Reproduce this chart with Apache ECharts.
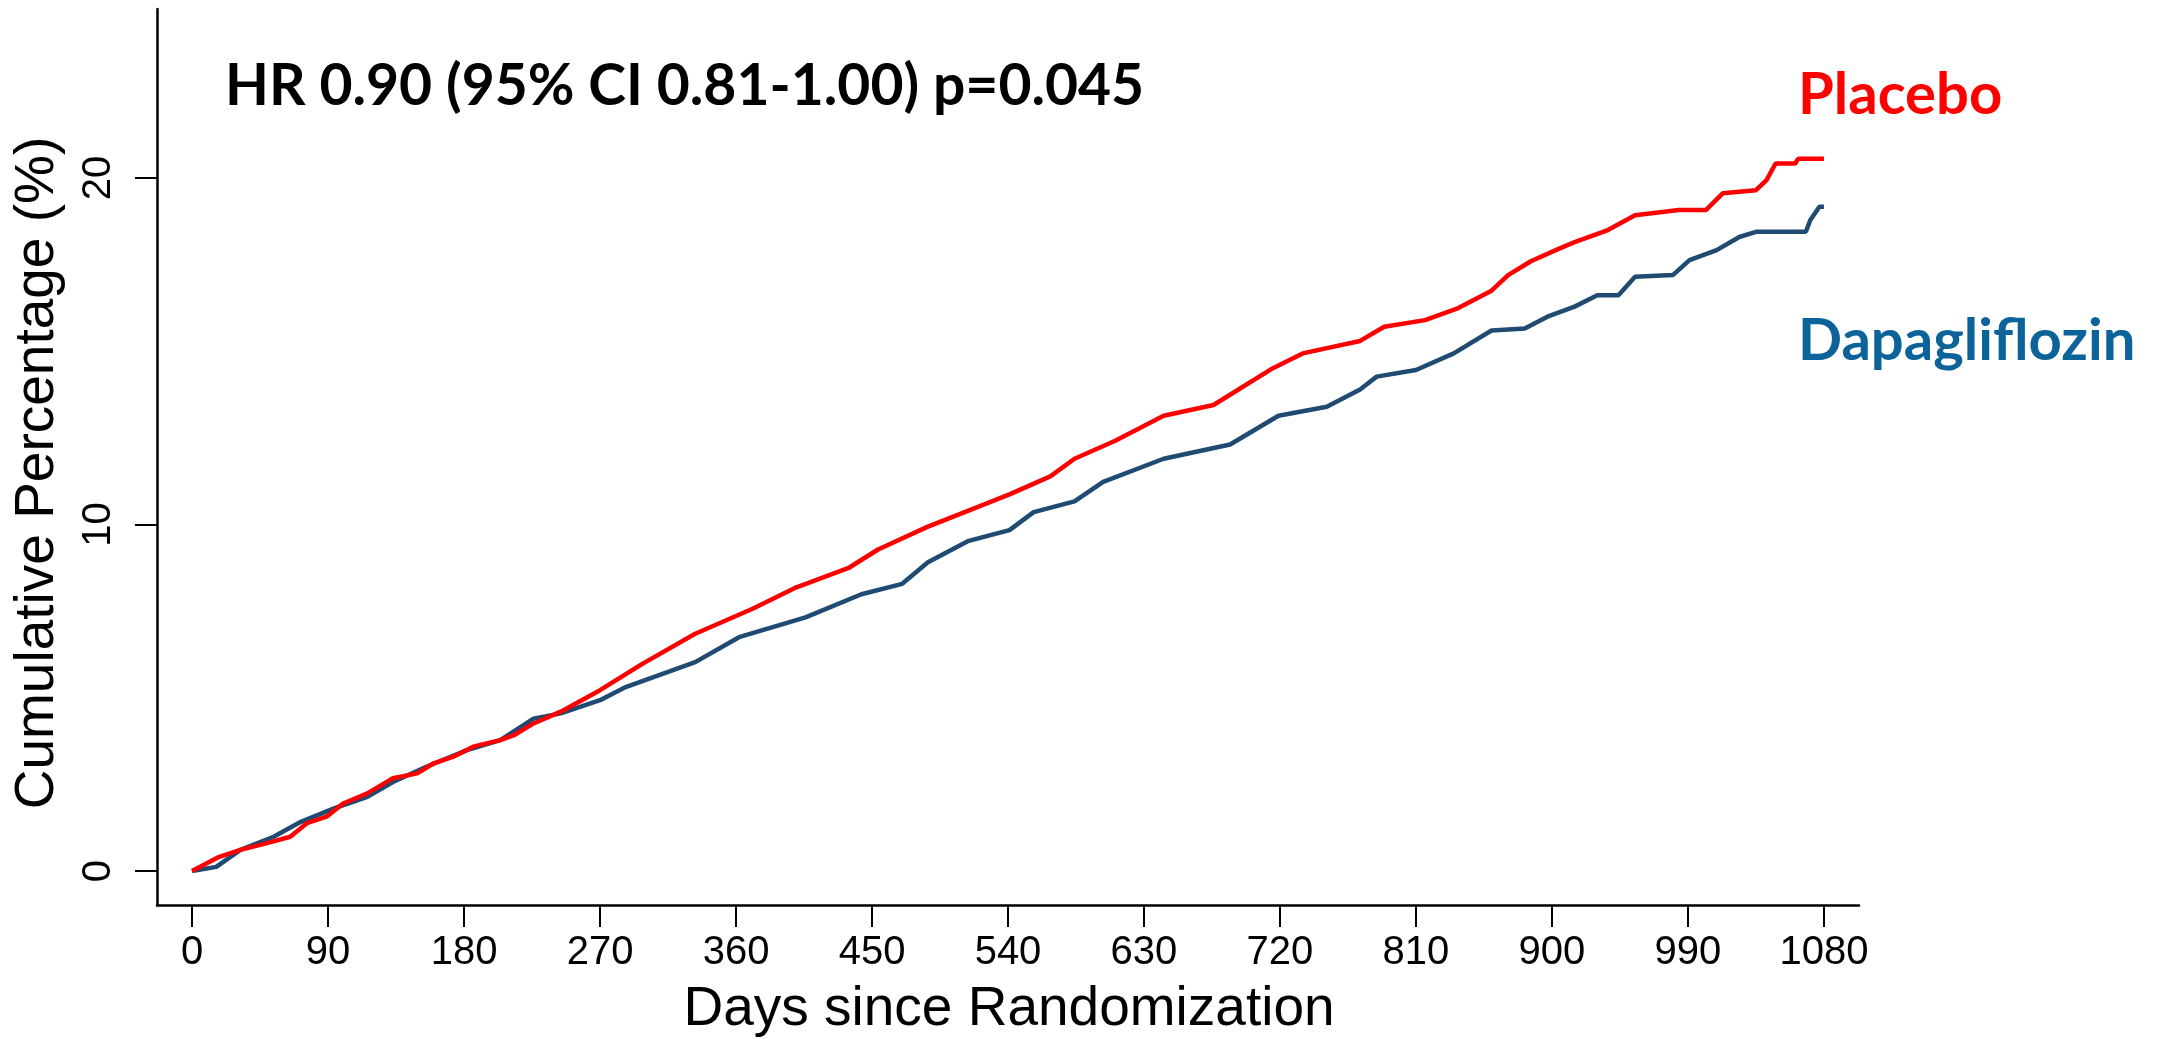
<!DOCTYPE html>
<html>
<head>
<meta charset="utf-8">
<title>Cumulative Percentage</title>
<script src="https://cdn.jsdelivr.net/npm/echarts@6/dist/echarts.min.js"></script>
<style>
  html, body { margin: 0; padding: 0; background: #fff; }
  #chart { width: 2161px; height: 1039px; }
</style>
</head>
<body>
<div id="chart"></div>
<script>
// values (days, cumulative %)
var placeboDays = [0, 18, 32, 49, 65, 76, 89, 100, 116, 133, 149, 160, 173, 186, 204, 213, 226, 244, 270, 298,
  333, 371, 400, 435, 454, 487, 508, 541, 568, 584, 611, 643, 676, 714, 735, 773, 789, 816, 838, 860,
  871, 886, 904, 915, 937, 955, 984, 1002, 1013, 1035, 1042, 1048, 1061, 1063, 1080];
var placeboPct = [0, 0.41, 0.61, 0.8, 0.99, 1.38, 1.57, 1.95, 2.24, 2.68, 2.82, 3.11, 3.3, 3.59, 3.78, 3.92, 4.26, 4.6, 5.22, 5.98,
  6.85, 7.57, 8.19, 8.76, 9.28, 9.94, 10.3, 10.87, 11.39, 11.9, 12.42, 13.14, 13.45, 14.48, 14.94, 15.3, 15.71, 15.9, 16.25, 16.75,
  17.2, 17.6, 17.95, 18.15, 18.5, 18.93, 19.08, 19.08, 19.56, 19.65, 19.94, 20.42, 20.42, 20.56, 20.56];

var dapaDays = [0, 16, 32, 54, 72, 94, 116, 133, 155, 182, 204, 226, 244, 270, 287, 333, 362, 406, 443, 470,
  487, 514, 541, 557, 584, 603, 643, 687, 719, 751, 773, 784, 810, 835, 860, 882, 897, 915, 930, 944,
  955, 980, 991, 1009, 1024, 1035, 1068, 1071, 1077, 1080];
var dapaPct = [0, 0.12, 0.61, 0.99, 1.42, 1.81, 2.14, 2.57, 3.01, 3.49, 3.78, 4.4, 4.55, 4.93, 5.31, 6.03, 6.75, 7.32, 7.99, 8.29,
  8.91, 9.53, 9.84, 10.36, 10.67, 11.23, 11.9, 12.31, 13.14, 13.4, 13.9, 14.27, 14.46, 14.94, 15.6, 15.66, 16.0, 16.29, 16.62, 16.62,
  17.15, 17.2, 17.63, 17.92, 18.3, 18.45, 18.45, 18.79, 19.17, 19.17];

var xTicks = [0, 90, 180, 270, 360, 450, 540, 630, 720, 810, 900, 990, 1080];
var yTicks = [0, 10, 20];

var seriesNames = ['Dapagliflozin', 'Placebo'];
var hrText = 'HR 0.90 (95% CI 0.81-1.00) p=0.045';

function pairs(xs, ys) {
  var out = [];
  for (var i = 0; i < xs.length; i++) {
    out.push([xs[i], ys[i]]);
  }
  return out;
}

var chart = echarts.init(document.getElementById('chart'));

var axisFont = 'Liberation Sans, Arial, sans-serif';
var boldFont = 'Lato, Open Sans, sans-serif';

var option = {
  backgroundColor: '#fff',
  animation: false,
  grid: { left: 157, right: 302, top: 9, bottom: 134 },
  xAxis: {
    type: 'value',
    min: -23.2,
    max: 1103.2,
    axisLine: { onZero: false, lineStyle: { color: '#000', width: 2.5 } },
    axisTick: { customValues: xTicks, length: 22, lineStyle: { color: '#000', width: 2 } },
    axisLabel: {
      customValues: xTicks, margin: 28, color: '#000', fontSize: 40, fontFamily: axisFont,
      formatter: function(v) { return String(v); }
    },
    splitLine: { show: false }
  },
  yAxis: {
    type: 'value',
    min: -0.98,
    max: 24.88,
    axisLine: { show: true, onZero: false, lineStyle: { color: '#000', width: 2.5 } },
    axisTick: { show: true, customValues: yTicks, length: 22, lineStyle: { color: '#000', width: 2 } },
    axisLabel: {
      customValues: yTicks, rotate: 90, margin: 38, color: '#000', fontSize: 40, fontFamily: axisFont,
      formatter: function(v) { return String(v); }
    },
    splitLine: { show: false }
  },
  graphic: [
    {
      type: 'text', x: 38, y: 473, rotation: Math.PI / 2,
      style: { text: 'Cumulative Percentage (%)', fill: '#000', font: '55px ' + axisFont, textAlign: 'center', textVerticalAlign: 'middle' }
    },
    {
      type: 'text', x: 1009, y: 1010,
      style: { text: 'Days since Randomization', fill: '#000', font: '55px ' + axisFont, textAlign: 'center', textVerticalAlign: 'middle' }
    },
    {
      type: 'text', x: 225, y: 87,
      style: { text: hrText, fill: '#000', font: 'bold 57px ' + boldFont, textAlign: 'left', textVerticalAlign: 'middle' }
    },
    {
      type: 'text', x: 1798, y: 95,
      style: { text: seriesNames[1], fill: '#ff0000', font: 'bold 58px ' + boldFont, textAlign: 'left', textVerticalAlign: 'middle' }
    },
    {
      type: 'text', x: 1798, y: 341,
      style: { text: seriesNames[0], fill: '#0b6399', font: 'bold 58px ' + boldFont, textAlign: 'left', textVerticalAlign: 'middle' }
    }
  ],
  series: [
    {
      name: seriesNames[0],
      type: 'line',
      showSymbol: false,
      data: pairs(dapaDays, dapaPct),
      lineStyle: { color: '#1f4a72', width: 4.5 },
      itemStyle: { color: '#1f4a72' }
    },
    {
      name: seriesNames[1],
      type: 'line',
      showSymbol: false,
      data: pairs(placeboDays, placeboPct),
      lineStyle: { color: '#ff0000', width: 4.5 },
      itemStyle: { color: '#ff0000' }
    }
  ]
};

chart.setOption(option);
</script>
</body>
</html>
